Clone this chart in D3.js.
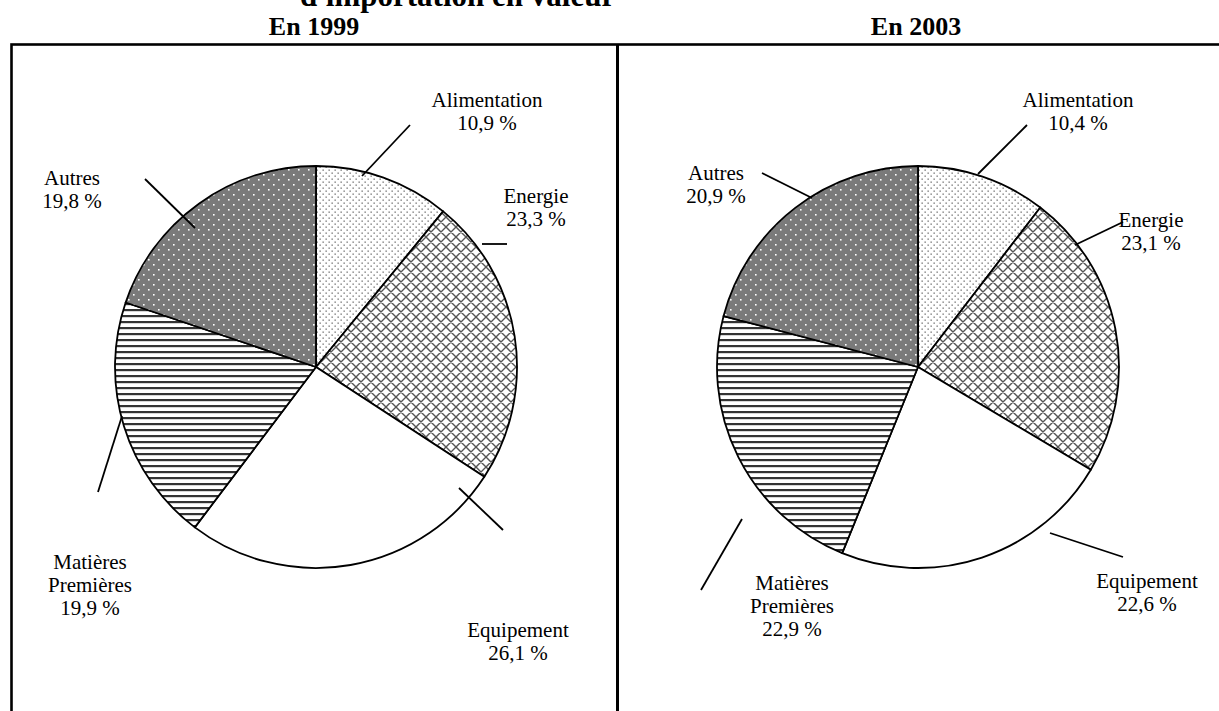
<!DOCTYPE html>
<html>
<head>
<meta charset="utf-8">
<script src="https://cdn.jsdelivr.net/npm/d3@7"></script>
<style>
  body { margin: 0; background: #fff; }
  svg text { font-family: "Liberation Serif", "Times New Roman", serif; fill: #000; }
</style>
</head>
<body>
<div id="chart"></div>
<script>
// Data
var categories = ["Alimentation", "Energie", "Equipement", "Matières Premières", "Autres"];
var years = ["En 1999", "En 2003"];
var values1999 = [10.9, 23.3, 26.1, 19.9, 19.8];
var values2003 = [10.4, 23.1, 22.6, 22.9, 20.9];
var valueLabels1999 = ["10,9 %", "23,3 %", "26,1 %", "19,9 %", "19,8 %"];
var valueLabels2003 = ["10,4 %", "23,1 %", "22,6 %", "22,9 %", "20,9 %"];

var svgWidth = 1219;
var svgHeight = 711;
var radius = 201;

var svg = d3.select("#chart")
  .append("svg")
  .attr("width", svgWidth)
  .attr("height", svgHeight);

// Fill patterns, one per category
var defs = svg.append("defs");

function makePattern(id, w, h) {
  return defs.append("pattern")
    .attr("id", id)
    .attr("width", w)
    .attr("height", h)
    .attr("patternUnits", "userSpaceOnUse");
}

// light dots
var pDots = makePattern("pat-dots", 6, 6);
pDots.append("rect").attr("width", 6).attr("height", 6).attr("fill", "#fff");
pDots.append("rect").attr("x", 0.5).attr("y", 0.5).attr("width", 1.3).attr("height", 1.3).attr("fill", "#6a6a6a");
pDots.append("rect").attr("x", 3.5).attr("y", 3.5).attr("width", 1.3).attr("height", 1.3).attr("fill", "#6a6a6a");

// diagonal cross-hatch
var pCross = makePattern("pat-cross", 10, 10);
pCross.append("rect").attr("width", 10).attr("height", 10).attr("fill", "#fff");
pCross.append("path").attr("d", "M0,0L10,10M10,0L0,10M-1,9L1,11M9,-1L11,1M-1,1L1,-1M9,11L11,9")
  .attr("stroke", "#555").attr("stroke-width", 1.4);

// horizontal stripes
var pStripes = makePattern("pat-stripes", 6, 6);
pStripes.append("rect").attr("width", 6).attr("height", 6).attr("fill", "#fff");
pStripes.append("rect").attr("x", 0).attr("y", 2).attr("width", 6).attr("height", 2.2).attr("fill", "#333");

// dark with white dots
var pDark = makePattern("pat-dark", 10, 10);
pDark.append("rect").attr("width", 10).attr("height", 10).attr("fill", "#7a7a7a");
pDark.append("rect").attr("x", 2).attr("y", 2).attr("width", 1.6).attr("height", 1.6).attr("fill", "#fff");
pDark.append("rect").attr("x", 7).attr("y", 7).attr("width", 1.6).attr("height", 1.6).attr("fill", "#fff");

var fills = ["url(#pat-dots)", "url(#pat-cross)", "#fff", "url(#pat-stripes)", "url(#pat-dark)"];

// Label placement relative to each pie centre: text anchor (tx, ty = first baseline)
// and leader line from (x1, y1) to (x2, y2)
var layout1999 = [
  { tx: 171, ty: -260, x1: 94, y1: -242, x2: 46, y2: -191 },
  { tx: 220, ty: -164, x1: 166, y1: -123, x2: 191, y2: -123 },
  { tx: 202, ty: 270, x1: 143, y1: 121, x2: 187, y2: 163 },
  { tx: -226, ty: 202, x1: -218, y1: 125, x2: -194, y2: 49 },
  { tx: -244, ty: -182, x1: -171, y1: -188, x2: -121, y2: -139 }
];
var layout2003 = [
  { tx: 160, ty: -260, x1: 109, y1: -242, x2: 60, y2: -193 },
  { tx: 233, ty: -140, x1: 205, y1: -145, x2: 157, y2: -122 },
  { tx: 229, ty: 221, x1: 132, y1: 166, x2: 205, y2: 190 },
  { tx: -126, ty: 223, x1: -217, y1: 223, x2: -176, y2: 152 },
  { tx: -202, ty: -187, x1: -156, y1: -194, x2: -106, y2: -169 }
];

// Frame around the two panels
svg.append("rect")
  .attr("x", 11.5)
  .attr("y", 44.5)
  .attr("width", 1300)
  .attr("height", 800)
  .attr("fill", "none")
  .attr("stroke", "#000")
  .attr("stroke-width", 2.6);

svg.append("line")
  .attr("x1", 617.5).attr("x2", 617.5)
  .attr("y1", 44).attr("y2", svgHeight)
  .attr("stroke", "#000")
  .attr("stroke-width", 3);

// Cut-off main title
svg.append("text")
  .attr("x", 300)
  .attr("y", 6)
  .style("font-size", "31px")
  .style("font-weight", "bold")
  .text("d'importation en valeur");

var pie = d3.pie().sort(null).value(function(d) { return d; });
var arc = d3.arc().innerRadius(0).outerRadius(radius);

function drawPie(cx, title, values, valueLabels, layout) {
  var g = svg.append("g").attr("transform", "translate(" + cx + ",367)");

  svg.append("text")
    .attr("x", cx - 2)
    .attr("y", 35)
    .attr("text-anchor", "middle")
    .style("font-size", "26px")
    .style("font-weight", "bold")
    .text(title);

  g.selectAll("path.slice")
    .data(pie(values))
    .enter()
    .append("path")
    .attr("class", "slice")
    .attr("d", arc)
    .attr("fill", function(d, i) { return fills[i]; })
    .attr("stroke", "#000")
    .attr("stroke-width", 1.8)
    .attr("stroke-linejoin", "round");

  layout.forEach(function(l, i) {
    g.append("line")
      .attr("x1", l.x1).attr("y1", l.y1)
      .attr("x2", l.x2).attr("y2", l.y2)
      .attr("stroke", "#000")
      .attr("stroke-width", 1.8);

    var lines = categories[i].split(" ").concat([valueLabels[i]]);
    var t = g.append("text")
      .attr("text-anchor", "middle")
      .style("font-size", "21px");
    lines.forEach(function(s, k) {
      t.append("tspan")
        .attr("x", l.tx)
        .attr("y", l.ty + k * 23)
        .text(s);
    });
  });
}

drawPie(316, years[0], values1999, valueLabels1999, layout1999);
drawPie(918, years[1], values2003, valueLabels2003, layout2003);
</script>
</body>
</html>
